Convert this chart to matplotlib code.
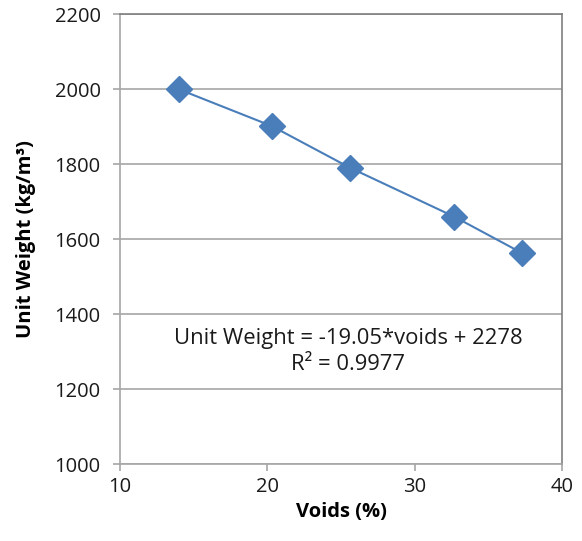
import matplotlib
matplotlib.use("Agg")
import matplotlib.pyplot as plt

voids = [14.0, 20.3, 25.6, 32.7, 37.3]
unit_weight = [2000, 1902, 1791, 1660, 1563]
x_ticks = [10, 20, 30, 40]
y_ticks = [1000, 1200, 1400, 1600, 1800, 2000, 2200]
eq_text = "Unit Weight = -19.05*voids + 2278\nR² = 0.9977"

plt.rcParams['font.family'] = ['Open Sans', 'DejaVu Sans']

fig = plt.figure(figsize=(5.82, 5.41), dpi=100)
ax = fig.add_axes([120/582, 1 - 464.3/541, (562-120)/582, (464.3-14.3)/541])

blue = '#4A7EBB'
ax.plot(voids, unit_weight, color=blue, lw=1.5, marker='D', markersize=13,
        markerfacecolor=blue, markeredgecolor=blue, zorder=3)

ax.set_xlim(10, 40)
ax.set_ylim(1000, 2200)
ax.set_xticks(x_ticks)
ax.set_yticks(y_ticks)
ax.grid(axis='y', color='#A6A6A6', lw=1.2)
ax.set_axisbelow(True)
for s in ['left', 'bottom']:
    ax.spines[s].set_color('#A6A6A6')
    ax.spines[s].set_linewidth(1.2)
for s in ['top', 'right']:
    ax.spines[s].set_color('#7F7F7F')
    ax.spines[s].set_linewidth(1.2)
ax.tick_params(axis='both', direction='out', length=5, width=1.2, color='#A6A6A6',
               labelsize=14.5, labelcolor='#1a1a1a')
ax.tick_params(axis='y', pad=9)
ax.tick_params(axis='x', pad=4)

ax.set_xlabel('Voids (%)', fontsize=14.5, fontweight='bold', labelpad=4)
ax.set_ylabel('Unit Weight (kg/m³)', fontsize=14.5, fontweight='bold', labelpad=13)

ax.text(25.5, 1300, eq_text, ha='center', va='center', fontsize=15.8,
        color='#1a1a1a', linespacing=1.3)

fig.savefig('out.png', dpi=100)
